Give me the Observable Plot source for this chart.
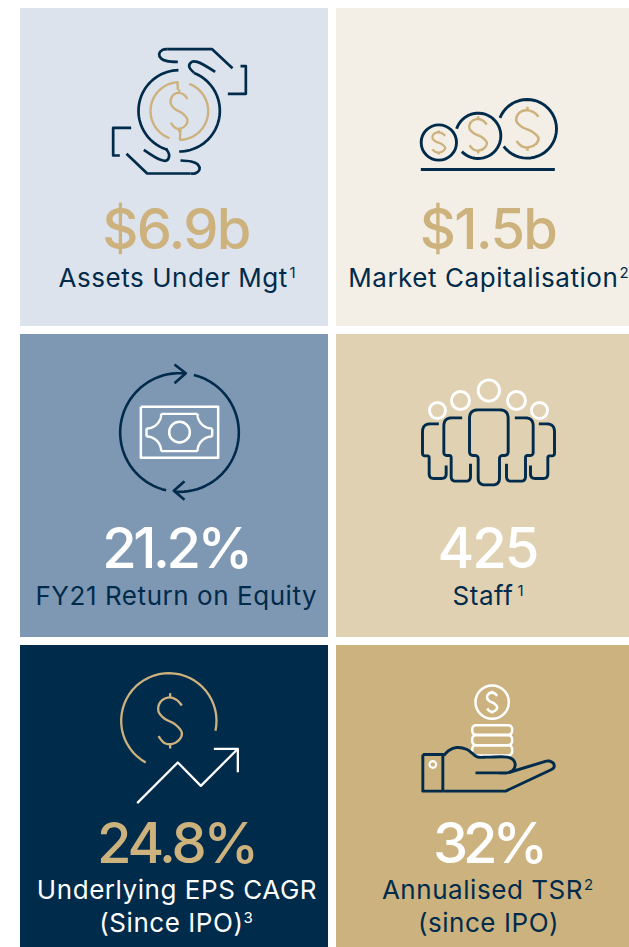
<!DOCTYPE html>
<html>
<head>
<meta charset="utf-8">
<style>
html,body{margin:0;padding:0;background:#fff;}
svg{display:block;}
</style>
<script src="https://cdn.jsdelivr.net/npm/d3@7"></script>
<script src="https://cdn.jsdelivr.net/npm/@observablehq/plot@0.6"></script>
</head>
<body>
<div id="chart"></div>
<script>
const NAVY = "#012b4b", GOLD = "#cdb27d", WHITE = "#ffffff";

// Tiles
const tileLeft   = [20, 336, 20, 336, 20, 336];
const tileRight  = [328, 629, 328, 629, 328, 629];
const tileTop    = [8, 8, 334, 334, 645, 645];
const tileBottom = [326, 326, 637, 637, 947, 947];
const tileFill   = ["#dce3ed", "#f4efe6", "#7e98b4", "#e0d1b3", "#012b4b", "#cbb27e"];

// Text
const values      = ["$6.9b", "$1.5b", "21.2%", "425", "24.8%", "32%"];
const valueColor  = [GOLD, GOLD, WHITE, WHITE, GOLD, WHITE];
const valueX      = [175.5, 487.5, 175.5, 487, 176, 487.5];
const valueY      = [248.5, 248.5, 567, 567, 862, 862];
const valueSpacing = [-1.7, -1.7, -3.5, -2, -3.2, -5];
const labels      = ["Assets Under Mgt", "Market Capitalisation", "FY21 Return on Equity", "Staff", "Underlying EPS CAGR", "(Since IPO)", "Annualised TSR", "(since IPO)"];
const labelColor  = [NAVY, NAVY, NAVY, NAVY, WHITE, WHITE, NAVY, NAVY];
const labelX      = [172.7, 482.8, 175.8, 482.5, 176.5, 170.9, 482, 488];
const labelY      = [286, 286, 604, 604, 898, 931, 898, 931];
const notes       = ["1", "2", "1", "3", "2"];
const noteColor   = [NAVY, NAVY, NAVY, WHITE, NAVY];
const noteX       = [292, 623.5, 520, 247.5, 588];
const noteY       = [277, 277, 595, 922, 889];

// Icon drawing units are thirds of a pixel, measured from each icon's origin.
const iconOriginX = [20, 330, 20, 330, 20, 330];
const iconOriginY = [0, 0, 330, 330, 640, 640];

// [icon, cx, cy, r, startDeg, endDeg, colour, width] angles clockwise from 12 o'clock
const iconArcs = [
  [0, 476, 331, 122, 21, 180, NAVY, 2.7],
  [0, 476, 331, 122, 197, 359, NAVY, 2.7],
  [0, 476.5, 331.5, 86.5, 200, 358, GOLD, 2.4],
  [0, 476.5, 331.5, 86.5, 20, 180, GOLD, 2.4],
  [1, 443, 406, 68, 288, 586, NAVY, 2.9],
  [1, 590, 385, 88, 292, 593, NAVY, 2.9],
  [2, 477, 306, 178, 193, 366, NAVY, 2.6],
  [2, 477, 306, 178, 14, 184, NAVY, 2.6],
  [2, 378, 250, 44, 90, 180, WHITE, 2.4],
  [2, 575, 250, 44, 180, 270, WHITE, 2.4],
  [2, 378, 362, 44, 0, 90, WHITE, 2.4],
  [2, 575, 362, 44, 270, 360, WHITE, 2.4],
  [4, 445, 241, 143, 209, 462, GOLD, 2.3]
];

// [icon, cx, cy, r, colour, width]
const iconCircles = [
  [1, 325, 426, 53, NAVY, 2.9],
  [2, 477, 305, 31, WHITE, 2.5],
  [3, 475, 180, 32, WHITE, 2.9],
  [3, 390, 210, 27, WHITE, 2.9],
  [3, 558, 210, 27, WHITE, 2.9],
  [3, 321, 240, 24, WHITE, 2.9],
  [3, 627, 240, 24, WHITE, 2.9],
  [5, 485, 185, 50, WHITE, 2.5],
  [5, 307, 372, 10, WHITE, 2.1]
];

// [icon, cx, cy, height, width, colour, strokeWidth]
const iconDollars = [
  [0, 476, 331, 128, 50, GOLD, 2.3],
  [1, 325, 426, 72, 38, GOLD, 2.3],
  [1, 443, 403, 112, 52, GOLD, 2.4],
  [1, 591, 385, 132, 66, GOLD, 2.5],
  [4, 449, 241, 166, 70, GOLD, 2.3],
  [5, 485, 185, 68, 30, WHITE, 2.6]
];
const dollarS = [[1,-.66],[.5,-.92],[-.2,-1],[-.85,-.8],[-1,-.4],[-.5,-.1],[.4,.14],[1,.5],[.8,.8],[.1,1],[-.5,.95],[-1,.66]];

// [icon, colour, width, curve, points]; a point may carry a corner radius as third value
const iconPaths = [
  // Hands around the coin
  [0, NAVY, 2.7, "catmull-rom", [[472,184],[440,182],[422,174],[416,160],[426,148],[442,146]]],
  [0, NAVY, 2.7, "linear", [[442,146],[575,146],[636,203]]],
  [0, NAVY, 2.7, "linear", [[660,197],[676,197],[676,280],[622,280]]],
  [0, NAVY, 2.7, "catmull-rom", [[584,214],[530,184],[514,184],[506,198],[520,216]]],
  [0, NAVY, 2.7, "catmull-rom", [[370,448],[420,478],[438,480],[446,464],[436,444]]],
  [0, NAVY, 2.7, "catmull-rom", [[480,480],[512,483],[532,492],[537,507],[525,518],[510,519]]],
  [0, NAVY, 2.7, "linear", [[510,519],[380,519],[318,460]]],
  [0, NAVY, 2.7, "linear", [[332,382],[278,382],[278,465],[298,465]]],
  [0, GOLD, 2.4, "linear", [[471,245],[472,268]]],
  [0, GOLD, 2.4, "linear", [[478,418],[480,385]]],
  // Coins base
  [1, NAVY, 3, "linear", [[271,507],[673,507]]],
  // Banknote with arrows
  [2, NAVY, 2.6, "linear", [[462,102],[496,128],[462,158]]],
  [2, NAVY, 2.6, "linear", [[492,452],[460,481],[492,508]]],
  [2, WHITE, 2.5, "linear", [[361,229],[593,229],[593,382],[361,382],[361,229]]],
  [2, WHITE, 2.4, "linear", [[422,250],[531,250]]],
  [2, WHITE, 2.4, "linear", [[422,362],[531,362]]],
  [2, WHITE, 2.4, "linear", [[378,294],[378,318]]],
  [2, WHITE, 2.4, "linear", [[575,294],[575,318]]],
  // Staff figures
  [3, NAVY, 2.9, "linear", [[417,238,26],[533,238,26],[533,375,12],[507,375,10],[507,463,20],[443,463,20],[443,375,10],[417,375,12],[417,238,26]]],
  [3, NAVY, 2.9, "linear", [[395,262],[340,262,24],[340,375,10],[362,375,6],[362,452,14],[420,452,14],[420,400]]],
  [3, NAVY, 2.9, "linear", [[325,280],[276,280,24],[276,376,8],[296,376,6],[296,444,14],[347,444,14],[347,405]]],
  [3, NAVY, 2.9, "linear", [[553,262],[608,262,24],[608,375,10],[585,375,6],[585,452,14],[528,452,14],[528,400]]],
  [3, NAVY, 2.9, "linear", [[625,280],[672,280,24],[672,376,8],[652,376,6],[652,444,14],[600,444,14],[600,405]]],
  // Growth arrow
  [4, WHITE, 2.3, "linear", [[350,488],[472,366],[541,436],[650,327]]],
  [4, WHITE, 2.3, "linear", [[580,325],[652,325],[652,395]]],
  // Coin stack
  [5, WHITE, 2.5, "linear", [[425,254,14],[545,254,14],[545,283,14],[425,283,14],[425,254,14]]],
  [5, WHITE, 2.5, "linear", [[425,284,14],[545,284,14],[545,314,14],[425,314,14],[425,284,14]]],
  [5, WHITE, 2.5, "linear", [[425,314,14],[545,314,14],[545,345,14],[425,345,14],[425,314,14]]],
  // Open hand
  [5, NAVY, 2.9, "linear", [[277,342],[337,342],[337,452],[277,452],[277,342]]],
  [5, NAVY, 2.9, "catmull-rom", [[340,345],[355,330],[378,321],[410,327],[440,349],[470,350],[530,350],[548,358],[554,375],[545,391],[530,397],[500,397],[435,397]]],
  [5, NAVY, 2.9, "linear", [[535,396],[660,358,16],[678,380,18],[525,452,2],[340,452]]]
];

// Rounds any corner whose point carries a radius.
function cornerPoints(p, a, b, r) {
  const la = Math.hypot(a[0]-p[0], a[1]-p[1]), lb = Math.hypot(b[0]-p[0], b[1]-p[1]);
  const s = [p[0]+(a[0]-p[0])*r/la, p[1]+(a[1]-p[1])*r/la];
  const e = [p[0]+(b[0]-p[0])*r/lb, p[1]+(b[1]-p[1])*r/lb];
  return d3.range(0, 9).map(k => {
    const t = k / 8, u = 1 - t;
    return [u*u*s[0]+2*u*t*p[0]+t*t*e[0], u*u*s[1]+2*u*t*p[1]+t*t*e[1]];
  });
}
function roundCorners(pts) {
  const out = [];
  pts.forEach((p, i) => {
    const isEnd = i === 0 || i === pts.length - 1;
    if (!p[2] || isEnd) out.push([p[0], p[1]]);
    else out.push(...cornerPoints(p, pts[i - 1], pts[i + 1], p[2]));
  });
  const f = pts[0], l = pts[pts.length - 1];
  if (f[2] && l[2] && f[0] === l[0] && f[1] === l[1]) {
    const arc = cornerPoints(f, pts[pts.length - 2], pts[1], f[2]);
    return [...arc, ...out.slice(1, -1), arc[0]];
  }
  return out;
}

function iconLine(icon, pts, color, width, curve) {
  const ox = iconOriginX[icon], oy = iconOriginY[icon];
  return Plot.line(pts, {
    x: d => ox + d[0] / 3,
    y: d => oy + d[1] / 3,
    stroke: color,
    strokeWidth: width,
    curve,
    strokeLinecap: "butt"
  });
}

const tiles = values.map((_, i) => i);
const labelIdx = labels.map((_, i) => i);
const noteIdx = notes.map((_, i) => i);
const marks = [
  Plot.rect(tiles, {
    x1: i => tileLeft[i], x2: i => tileRight[i],
    y1: i => tileTop[i], y2: i => tileBottom[i],
    fill: i => tileFill[i]
  })
];

iconArcs.forEach(([icon, cx, cy, r, a0, a1, color, w]) => {
  const pts = d3.range(0, 41).map(k => {
    const a = (a0 + (a1 - a0) * k / 40) * Math.PI / 180;
    return [cx + r * Math.sin(a), cy - r * Math.cos(a)];
  });
  marks.push(iconLine(icon, pts, color, w, "linear"));
});

iconPaths.forEach(([icon, color, w, curve, pts]) => {
  marks.push(iconLine(icon, roundCorners(pts), color, w, curve));
});

iconDollars.forEach(([icon, cx, cy, h, wd, color, w]) => {
  const sy = h * 0.42, sx = wd / 2;
  const s = dollarS.map(([x, y]) => [cx + x * sx, cy + y * sy]);
  marks.push(iconLine(icon, s, color, w, "catmull-rom"));
  marks.push(iconLine(icon, [[cx, cy - h / 2], [cx, cy - sy]], color, w, "linear"));
  marks.push(iconLine(icon, [[cx, cy + sy], [cx, cy + h / 2]], color, w, "linear"));
});

iconCircles.forEach(([icon, cx, cy, r, color, w]) => {
  marks.push(Plot.dot([0], {
    x: () => iconOriginX[icon] + cx / 3,
    y: () => iconOriginY[icon] + cy / 3,
    r: r / 3,
    stroke: color,
    strokeWidth: w,
    fill: "none"
  }));
});

marks.push(Plot.text(tiles, {
  x: i => valueX[i], y: i => valueY[i], text: i => values[i],
  fill: i => valueColor[i],
  fontFamily: "Inter", fontSize: 56, fontWeight: 500,
  textAnchor: "middle", lineAnchor: "bottom",
  className: "tile-value"
}));
marks.push(Plot.text(labelIdx, {
  x: i => labelX[i], y: i => labelY[i], text: i => labels[i],
  fill: i => labelColor[i],
  fontFamily: "Inter", fontSize: 26, fontWeight: 400,
  textAnchor: "middle", lineAnchor: "bottom",
  className: "tile-label"
}));
marks.push(Plot.text(noteIdx, {
  x: i => noteX[i], y: i => noteY[i], text: i => notes[i],
  fill: i => noteColor[i],
  fontFamily: "Inter", fontSize: 15, fontWeight: 400,
  textAnchor: "middle", lineAnchor: "bottom"
}));

const chart = Plot.plot({
  width: 629, height: 947,
  margin: 0,
  x: {domain: [0, 629], range: [0, 629], axis: null},
  y: {domain: [0, 947], range: [0, 947], axis: null},
  color: {type: "identity"},
  marks
});
d3.select(chart).selectAll("g.tile-value text").each(function (d, k) {
  this.style.letterSpacing = valueSpacing[k] + "px";
});
d3.select(chart).selectAll("g.tile-label text").style("letter-spacing", "0.55px");
document.getElementById("chart").append(chart);
</script>
</body>
</html>
